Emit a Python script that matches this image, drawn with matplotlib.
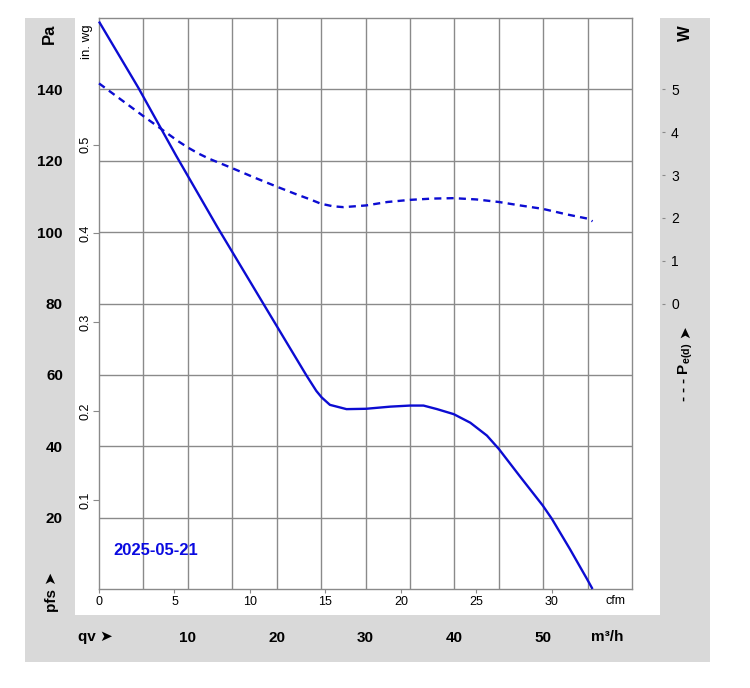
import matplotlib
matplotlib.use("Agg")
import matplotlib.pyplot as plt
from matplotlib.patches import Rectangle

plt.rcParams['font.family'] = ['Liberation Sans', 'DejaVu Sans']
plt.rcParams['mathtext.fontset'] = 'custom'
plt.rcParams['mathtext.rm'] = 'Liberation Sans'
plt.rcParams['mathtext.bf'] = 'Liberation Sans:bold'

# ---- data ----
pressure_cfm = [0, 2.6, 5.1, 7.83, 10.88, 12.3, 13.75, 14.4, 14.75, 15.3, 16.4, 17.7,
                19.3, 20.6, 21.5, 22.4, 23.5, 24.6, 25.7, 26.5, 27.9, 29.4, 30.0, 31.2,
                32.36, 32.7]
pressure_pa = [159, 140.5, 121.5, 101.5, 80, 70, 59.8, 55.5, 53.7, 51.6, 50.4, 50.5,
               51.1, 51.4, 51.4, 50.4, 49.0, 46.6, 43.0, 39.2, 31.5, 23.4, 19.7, 11.2,
               2.6, 0]
power_cfm = [0, 1.5, 3.0, 4.5, 5.2, 5.9, 6.6, 7.3, 8.83, 10.3, 11.77, 13.0, 14.0, 14.7,
             15.5, 16.2, 17.7, 19.1, 20.6, 22.1, 23.5, 25.0, 26.5, 27.9, 29.4, 31.0,
             32.4, 32.7]
power_w = [5.14, 4.75, 4.36, 3.98, 3.80, 3.64, 3.50, 3.38, 3.16, 2.94, 2.73, 2.56, 2.43,
           2.33, 2.27, 2.25, 2.29, 2.37, 2.42, 2.45, 2.46, 2.43, 2.37, 2.29, 2.21, 2.08,
           1.98, 1.92]

pa_ticks = [20, 40, 60, 80, 100, 120, 140]
inwg_ticks = [0.1, 0.2, 0.3, 0.4, 0.5]
w_ticks = [0, 1, 2, 3, 4, 5]
cfm_ticks = [0, 5, 10, 15, 20, 25, 30]
m3h_ticks = [10, 20, 30, 40, 50]
m3h_grid = [5, 10, 15, 20, 25, 30, 35, 40, 45, 50, 55]
date_label = "2025-05-21"

CFM_TO_M3H = 1.69901
PA_PER_INWG = 249.089

W, H = 750, 688
fig = plt.figure(figsize=(7.5, 6.88), dpi=100)
fig.patch.set_facecolor('white')

def fx(px):
    return px / W

def fy(py):
    return 1 - py / H

gray = '#d9d9d9'
for (x0, y0, x1, y1) in [(25, 18, 75, 615), (25, 615, 710, 662), (660, 18, 710, 615)]:
    fig.add_artist(Rectangle((fx(x0), fy(y1)), fx(x1) - fx(x0), fy(y0) - fy(y1),
                             transform=fig.transFigure, facecolor=gray, edgecolor='none',
                             zorder=0))

ax = fig.add_axes([fx(99), fy(589), fx(632) - fx(99), fy(18) - fy(589)])
ax.set_facecolor('white')
ax.set_xlim(0, 60 / CFM_TO_M3H)
ax.set_ylim(0, 160)

gcol = '#8a8a8a'
for s in ax.spines.values():
    s.set_color(gcol)
    s.set_linewidth(1.0)

# x ticks (cfm)
ax.set_xticks(cfm_ticks)
ax.set_xticklabels([str(v) for v in cfm_ticks], fontsize=9)
ax.tick_params(axis='x', which='major', length=3, width=0.8, color=gcol, pad=2)
ax.set_xticks([m / CFM_TO_M3H for m in m3h_grid], minor=True)
ax.tick_params(axis='x', which='minor', length=0)
ax.grid(axis='x', which='minor', color=gcol, linewidth=1.0)

# y ticks (Pa)
ax.set_yticks(pa_ticks)
ax.set_yticklabels([str(v) for v in pa_ticks], fontsize=11, fontweight='bold')
ax.tick_params(axis='y', length=0, pad=26)
ax.grid(axis='y', which='major', color=gcol, linewidth=1.0)
ax.set_axisbelow(True)

ax.plot(pressure_cfm, pressure_pa, color='#0c0cd2', linewidth=1.7, zorder=3,
        clip_on=False, solid_capstyle='butt', solid_joinstyle='round')

# in. wg secondary axis
sec = ax.secondary_yaxis('left', functions=(lambda p: p / PA_PER_INWG,
                                            lambda v: v * PA_PER_INWG))
sec.set_yticks(inwg_ticks)
sec.set_yticklabels([f"{v:.1f}" for v in inwg_ticks], fontsize=9, rotation=90,
                    va='center')
sec.tick_params(length=4, width=0.8, color=gcol, pad=1.5)
sec.spines['left'].set_visible(False)

# m3/h secondary axis
secx = ax.secondary_xaxis('bottom', functions=(lambda c: c * CFM_TO_M3H,
                                                lambda m: m / CFM_TO_M3H))
secx.set_xticks(m3h_ticks)
secx.set_xticklabels([str(v) for v in m3h_ticks], fontsize=11, fontweight='bold')
secx.tick_params(length=0, pad=30)
secx.spines['bottom'].set_visible(False)

# power axis
ax2 = ax.twinx()
ax2.set_ylim(-80 / 12, 80 / 12)
ax2.set_yticks(w_ticks)
ax2.set_yticklabels([str(v) for v in w_ticks], fontsize=11, fontweight='bold')
for s in ax2.spines.values():
    s.set_visible(False)
ax2.spines['right'].set_position(('outward', 21.6))
ax2.tick_params(axis='y', length=2.5, width=0.8, color=gcol, pad=4)
ax2.plot(power_cfm, power_w, color='#0c0cd2', linewidth=1.7, linestyle=(0, (3.0, 2.2)),
         zorder=3, clip_on=False)

# labels
fig.text(fx(49), fy(34), 'Pa', rotation=90, fontsize=12, fontweight='bold',
         ha='center', va='center')
fig.text(fx(87), fy(42), 'in. wg', rotation=90, fontsize=9.5, ha='center', va='center')
fig.text(fx(685), fy(33), 'W', rotation=90, fontsize=12, fontweight='bold',
         ha='center', va='center')
fig.text(fx(686), fy(372), r'- - - $\mathbf{P_{e(d)}}$', rotation=90, fontsize=11,
         fontweight='bold', ha='center', va='center')
fig.text(fx(685), fy(332), '➤', rotation=90, fontsize=11, fontweight='bold',
         ha='center', va='center')
fig.text(fx(52), fy(592), 'pfs ➤', rotation=90, fontsize=11, fontweight='bold',
         ha='center', va='center')
fig.text(fx(95), fy(637), 'qv ➤', fontsize=11, fontweight='bold', ha='center',
         va='center')
fig.text(fx(607), fy(637), 'm³/h', fontsize=11, fontweight='bold', ha='center',
         va='center')
fig.text(fx(615), fy(601), 'cfm', fontsize=9, ha='center', va='center')
ax.text(0.027, 0.0674, date_label, transform=ax.transAxes, fontsize=12,
        fontweight='bold', color='#0a0ae0', ha='left', va='center')

fig.savefig('out.png', dpi=100, facecolor='white')
